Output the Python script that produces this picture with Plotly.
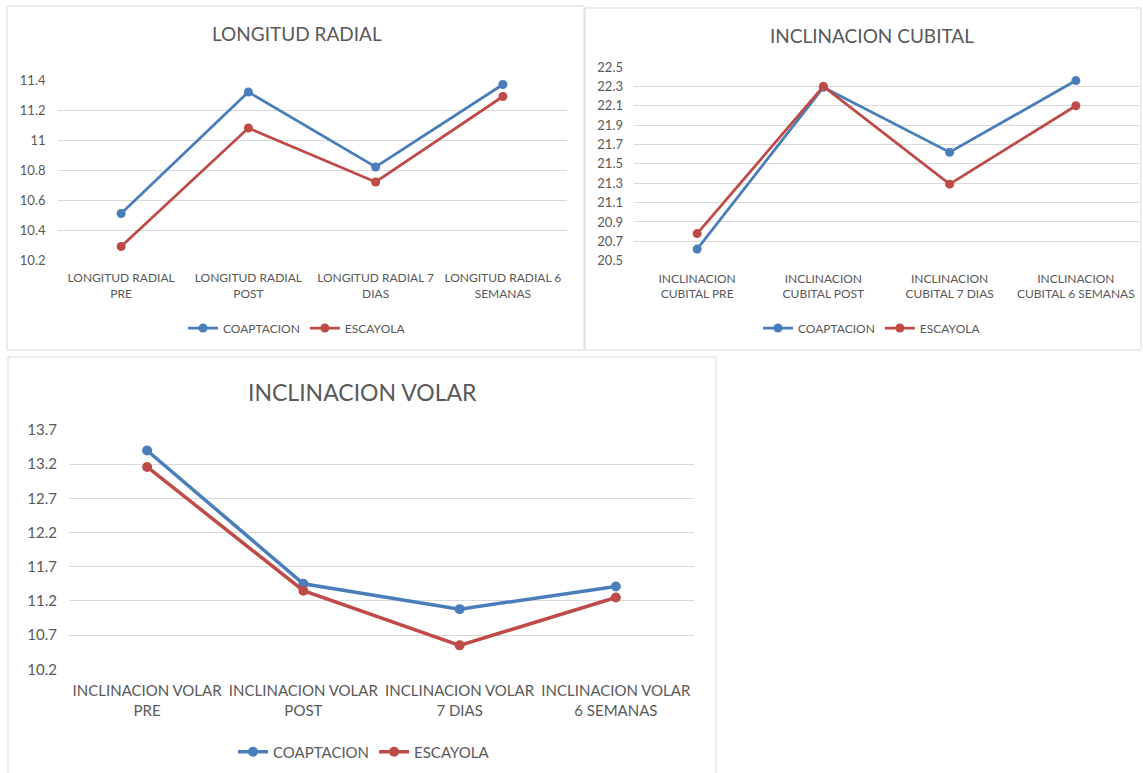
import plotly.graph_objects as go

W, H = 1143, 773

# ---------------- data ----------------
series_names = ["COAPTACION", "ESCAYOLA"]

lr_categories = ["LONGITUD RADIAL<br>PRE", "LONGITUD RADIAL<br>POST",
                 "LONGITUD RADIAL 7<br>DIAS", "LONGITUD RADIAL 6<br>SEMANAS"]
lr_coaptacion = [10.51, 11.32, 10.82, 11.37]
lr_escayola = [10.29, 11.08, 10.72, 11.29]
lr_ticks = [10.2, 10.4, 10.6, 10.8, 11.0, 11.2, 11.4]
lr_ticktext = ["10.2", "10.4", "10.6", "10.8", "11", "11.2", "11.4"]

ic_categories = ["INCLINACION<br>CUBITAL PRE", "INCLINACION<br>CUBITAL POST",
                 "INCLINACION<br>CUBITAL 7 DIAS", "INCLINACION<br>CUBITAL 6 SEMANAS"]
ic_coaptacion = [20.62, 22.29, 21.62, 22.36]
ic_escayola = [20.78, 22.30, 21.29, 22.10]
ic_ticks = [20.5, 20.7, 20.9, 21.1, 21.3, 21.5, 21.7, 21.9, 22.1, 22.3, 22.5]
ic_ticktext = ["20.5", "20.7", "20.9", "21.1", "21.3", "21.5", "21.7", "21.9", "22.1", "22.3", "22.5"]

iv_categories = ["INCLINACION VOLAR<br>PRE", "INCLINACION VOLAR<br>POST",
                 "INCLINACION VOLAR<br>7 DIAS", "INCLINACION VOLAR<br>6 SEMANAS"]
iv_coaptacion = [13.40, 11.45, 11.08, 11.41]
iv_escayola = [13.16, 11.35, 10.55, 11.25]
iv_ticks = [10.2, 10.7, 11.2, 11.7, 12.2, 12.7, 13.2, 13.7]
iv_ticktext = ["10.2", "10.7", "11.2", "11.7", "12.2", "12.7", "13.2", "13.7"]

titles = ["LONGITUD RADIAL", "INCLINACION CUBITAL", "INCLINACION VOLAR"]

# ---------------- style ----------------
BLUE = "#4A7EBB"
RED = "#BE4B48"
GRID = "#D9D9D9"
TXT = "#595959"
FONT = "Lato, Open Sans, sans-serif"


def px(x):
    return x / W


def py(y):
    return 1 - y / H


fig = go.Figure()

panels = [
    dict(cats=lr_categories, a=lr_coaptacion, b=lr_escayola, tv=lr_ticks, tt=lr_ticktext,
         xd=(57.5, 566.5), yd=(80, 260), leg="legend", lw=2.75, ms=9, tf=13, cf=12,
         rng=(10.2, 11.4), xs=9, ys=11),
    dict(cats=ic_categories, a=ic_coaptacion, b=ic_escayola, tv=ic_ticks, tt=ic_ticktext,
         xd=(634, 1139), yd=(67, 260.7), leg="legend2", lw=2.75, ms=9, tf=13, cf=12,
         rng=(20.5, 22.5), xs=9, ys=10),
    dict(cats=iv_categories, a=iv_coaptacion, b=iv_escayola, tv=iv_ticks, tt=iv_ticktext,
         xd=(69, 694), yd=(430, 669.3), leg="legend3", lw=3.5, ms=10, tf=15, cf=15,
         rng=(10.2, 13.7), xs=11, ys=11),
]

for i, p in enumerate(panels):
    n = "" if i == 0 else str(i + 1)
    xa, ya = "x" + n, "y" + n
    for name, vals, col in [(series_names[0], p["a"], BLUE), (series_names[1], p["b"], RED)]:
        fig.add_trace(go.Scatter(
            x=p["cats"], y=vals, name=name, mode="lines+markers",
            line=dict(color=col, width=p["lw"]),
            marker=dict(color=col, size=p["ms"]),
            xaxis=xa, yaxis=ya, legend=p["leg"], showlegend=True,
        ))
    fig.update_layout(**{
        "xaxis" + n: dict(domain=[px(p["xd"][0]), px(p["xd"][1])], anchor=ya,
                          type="category", range=[-0.5, 3.5], showgrid=False,
                          showline=False, zeroline=False, ticks="",
                          ticklabelstandoff=p["xs"], automargin=False,
                          tickfont=dict(family=FONT, size=p["cf"], color=TXT),
                          fixedrange=True),
        "yaxis" + n: dict(domain=[py(p["yd"][1]), py(p["yd"][0])], anchor=xa,
                          range=list(p["rng"]), tickvals=p["tv"], ticktext=p["tt"],
                          showgrid=True, gridcolor=GRID, gridwidth=1, zeroline=False,
                          showline=False, ticks="", ticklabelstandoff=p["ys"], automargin=False,
                          tickfont=dict(family=FONT, size=p["tf"], color=TXT),
                          fixedrange=True),
    })

legend_common = dict(orientation="h", xanchor="center", yanchor="middle",
                     bgcolor="rgba(0,0,0,0)", itemwidth=30, tracegroupgap=0)
fig.update_layout(
    legend=dict(x=px(297), y=py(328), font=dict(family=FONT, size=12, color=TXT), **legend_common),
    legend2=dict(x=px(872), y=py(328), font=dict(family=FONT, size=12, color=TXT), **legend_common),
    legend3=dict(x=px(364), y=py(752), font=dict(family=FONT, size=15, color=TXT), **legend_common),
)

for txt, x, y, s in [(titles[0], 297, 33, 19), (titles[1], 872, 35, 19), (titles[2], 362, 392, 23)]:
    fig.add_annotation(text=txt, x=px(x), y=py(y), xref="paper", yref="paper",
                       showarrow=False, xanchor="center", yanchor="middle",
                       font=dict(family=FONT, size=s, color=TXT))

for x0, y0, x1, y1 in [(7, 6, 584, 350), (585, 8, 1141, 350), (8, 357, 716, 780)]:
    fig.add_shape(type="rect", xref="paper", yref="paper",
                  x0=px(x0), x1=px(x1), y0=py(y1), y1=py(y0),
                  line=dict(color=GRID, width=1), fillcolor="rgba(0,0,0,0)", layer="below")

fig.update_layout(width=W, height=H, autosize=False,
                  margin=dict(l=0, r=0, t=0, b=0, pad=0, autoexpand=False),
                  paper_bgcolor="white", plot_bgcolor="white",
                  showlegend=True)

fig.write_html(
    "out.html",
    config={"displayModeBar": False},
    post_script=(
        "document.body.style.margin='0px';"
        "document.body.style.overflow='hidden';"
    ),
)
